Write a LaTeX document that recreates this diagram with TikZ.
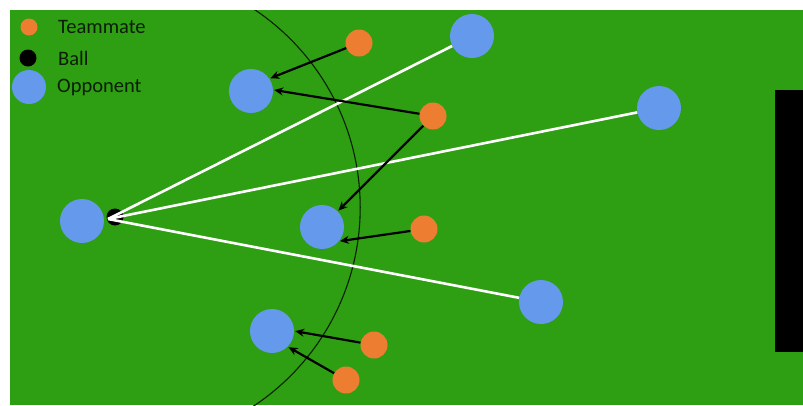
\documentclass[tikz,border=0pt]{standalone}
\usepackage{fontspec}
\setmainfont{Carlito}
\usetikzlibrary{arrows.meta}
\definecolor{field}{RGB}{46,158,18}
\definecolor{opp}{RGB}{100,153,235}
\definecolor{mate}{RGB}{237,125,49}
\definecolor{txt}{RGB}{12,30,8}
\tikzset{
  opponent/.style={circle,fill=opp,inner sep=0pt,minimum size=44pt},
  teammate/.style={circle,fill=mate,inner sep=0pt,minimum size=27pt},
  ballnode/.style={circle,fill=black,inner sep=0pt,minimum size=17pt},
  passline/.style={white,line width=2.6pt},
  markarrow/.style={black,line width=2.2pt,-{Stealth[length=9pt,width=8pt]},shorten >=1pt},
  legendtext/.style={anchor=west,text=txt,font=\fontsize{20.5pt}{24pt}\selectfont,inner sep=0pt},
  arcline/.style={black!80!field,line width=1.1pt}
}
\begin{document}
\begin{tikzpicture}[x=1pt,y=-1pt]
\useasboundingbox (0,0) rectangle (803,405);
\fill[white] (0,0) rectangle (803,405);
\fill[field] (10,10) rectangle (803,405);
\begin{scope}
\clip (10,10) rectangle (803,405);
\draw[arcline] (122,207.5) circle (238.2pt);
\end{scope}
\fill[black] (775,90) rectangle (803,352);
% legend
\node[teammate,minimum size=17pt] (lt) at (29,27) {};
\node[ballnode] (lb) at (28,58) {};
\node[opponent,minimum size=34pt] (lo) at (29,87) {};
\node[legendtext] (ltt) at (58,27) {Teammate};
\node[legendtext] (lbt) at (58,58) {Ball};
\node[legendtext] (lot) at (57,87) {Opponent};
% ball
\node[ballnode] (b) at (115,217) {};
\coordinate (bs) at (108,219);
% opponents
\node[opponent] (o1) at (472,36) {};
\node[opponent] (o2) at (251,91) {};
\node[opponent] (o3) at (659,108) {};
\node[opponent] (o4) at (82,221) {};
\node[opponent] (o5) at (322,227) {};
\node[opponent] (o6) at (541,302) {};
\node[opponent] (o7) at (272,331) {};
% pass lines
\draw[passline] (bs) -- (o1);
\draw[passline] (bs) -- (o3);
\draw[passline] (bs) -- (o6);
% teammates
\node[teammate] (t1) at (359,43) {};
\node[teammate] (t2) at (433,116) {};
\node[teammate] (t3) at (424,229) {};
\node[teammate] (t4) at (374,345) {};
\node[teammate] (t5) at (346,380) {};
% marking arrows
\draw[markarrow] (t1) -- (o2.34);
\draw[markarrow] (t2) -- (o2.3);
\draw[markarrow] (t2) -- (o5.45);
\draw[markarrow] (t3) -- (o5.-40);
\draw[markarrow] (t4) -- (o7.0);
\draw[markarrow] (t5) -- (o7.-45);
\end{tikzpicture}
\end{document}
